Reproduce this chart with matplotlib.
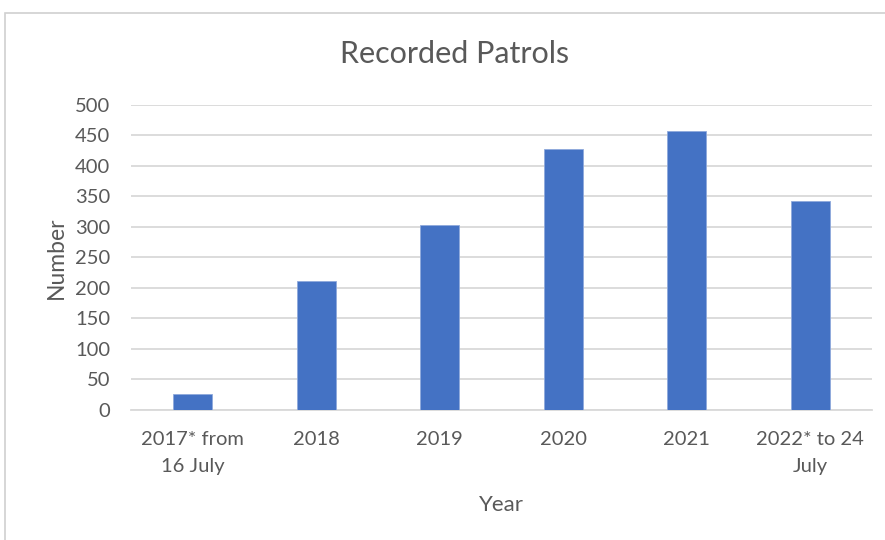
import matplotlib.pyplot as plt
from matplotlib.patches import Rectangle

# data
years = ['2017* from\n16 July', '2018', '2019', '2020', '2021', '2022* to 24\nJuly']
patrols = [27, 212, 303, 428, 457, 343]
yticks = [0, 50, 100, 150, 200, 250, 300, 350, 400, 450, 500]

plt.rcParams['font.family'] = ['Lato', 'DejaVu Sans']
txt = '#595959'
grid = '#D9D9D9'

fig = plt.figure(figsize=(8.85, 5.4), dpi=100)
ax = fig.add_axes([131/885, 1-410/540, (872-131)/885, (410-104.7)/540])

# chart border
fig.patches.append(Rectangle((5/885, -0.1), 1.2, 1-13/540+0.1, transform=fig.transFigure,
                             fill=False, edgecolor='#D0D0D0', linewidth=1.2))

x = range(len(years))
ax.bar(x, patrols, width=0.313, color='#4472C4', edgecolor='#8FA9DC', linewidth=0.6, zorder=3)

ax.set_xlim(-0.5, len(years) - 0.5)
ax.set_ylim(0, 500)
ax.set_yticks(yticks)
ax.set_xticks(list(x))
ax.set_xticklabels(years, linespacing=1.75)
ax.tick_params(axis='both', length=0, labelsize=14.5, colors=txt)
ax.tick_params(axis='x', pad=15)
ax.tick_params(axis='y', pad=15)
ax.grid(axis='y', color=grid, linewidth=1.3, zorder=0)
for s in ['top', 'right', 'left']:
    ax.spines[s].set_visible(False)
ax.spines['bottom'].set_color(grid)
ax.spines['bottom'].set_linewidth(1.3)

fig.text(455/885, 1-54/540, 'Recorded Patrols', fontsize=22, color=txt, ha='center', va='center')
ax.set_ylabel('Number', fontsize=16.5, color=txt, labelpad=6)
ax.set_xlabel('Year', fontsize=16, color=txt, labelpad=14)

fig.savefig('out.png', dpi=100)
